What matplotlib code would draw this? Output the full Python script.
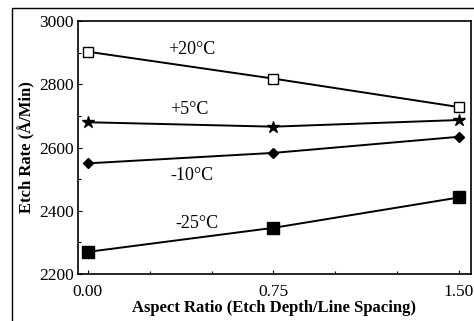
import matplotlib
matplotlib.use("Agg")
import matplotlib.pyplot as plt
from matplotlib.patches import Rectangle
from matplotlib.ticker import MultipleLocator

plt.rcParams["font.family"] = ["Liberation Serif", "DejaVu Serif"]

aspect_ratio = [0.00, 0.75, 1.50]
rate_p20 = [2903, 2818, 2728]
rate_p5 = [2680, 2666, 2687]
rate_m10 = [2550, 2583, 2634]
rate_m25 = [2270, 2346, 2442]

x_ticks = [0.00, 0.75, 1.50]
x_tick_labels = ["0.00", "0.75", "1.50"]
y_ticks = [2200, 2400, 2600, 2800, 3000]

fig = plt.figure(figsize=(4.74, 3.21), dpi=100)
ax = fig.add_axes([0.1646, 0.1464, 0.829, 0.788])

ax.plot(aspect_ratio, rate_p20, color="black", lw=1.4, marker="s", ms=7,
        mfc="white", mec="black", mew=1.0)
ax.plot(aspect_ratio, rate_p5, color="black", lw=1.4, marker="*", ms=9,
        mfc="black", mec="black")
ax.plot(aspect_ratio, rate_m10, color="black", lw=1.4, marker="D", ms=5.5,
        mfc="black", mec="black")
ax.plot(aspect_ratio, rate_m25, color="black", lw=1.4, marker="s", ms=8,
        mfc="black", mec="black")

ax.text(0.42, 2911, "+20°C", fontsize=13, ha="center", va="center")
ax.text(0.41, 2720, "+5°C", fontsize=13, ha="center", va="center")
ax.text(0.42, 2513, "-10°C", fontsize=13, ha="center", va="center")
ax.text(0.44, 2360, "-25°C", fontsize=13, ha="center", va="center")

ax.set_xlim(-0.040, 1.549)
ax.set_ylim(2200, 3000)
ax.set_xticks(x_ticks)
ax.set_xticklabels(x_tick_labels)
ax.set_yticks(y_ticks)
ax.xaxis.set_minor_locator(MultipleLocator(0.25))
ax.yaxis.set_minor_locator(MultipleLocator(100))
ax.tick_params(axis="both", labelsize=12.5, direction="in", length=3, width=0.8)
ax.tick_params(axis="x", pad=7)
ax.tick_params(axis="y", pad=3)
ax.tick_params(axis="both", which="minor", direction="in", length=2, width=0.8)

ax.set_xlabel("Aspect Ratio (Etch Depth/Line Spacing)", fontsize=12,
              fontweight="bold", labelpad=0)
ax.set_ylabel("Etch Rate (Å/Min)", fontsize=12, fontweight="bold", labelpad=3)

for sp in ax.spines.values():
    sp.set_linewidth(1.2)

fig.patches.append(Rectangle((12 / 474, -0.01), 1.0, 1 - 8 / 321 + 0.01,
                             transform=fig.transFigure, fill=False,
                             edgecolor="black", lw=1.0, clip_on=False))

fig.savefig("out.png", dpi=100)
